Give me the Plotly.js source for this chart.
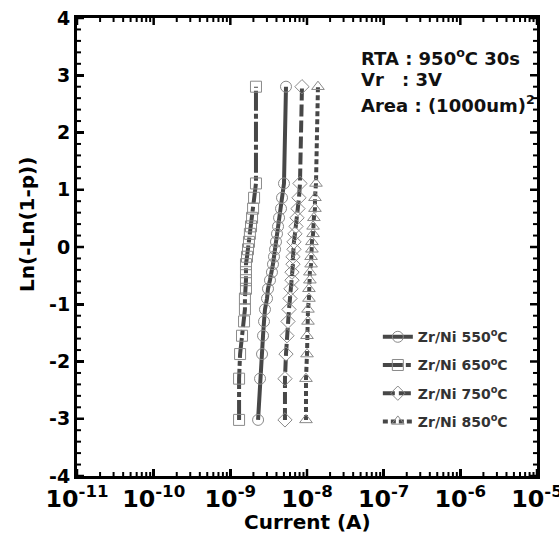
<!DOCTYPE html>
<html>
<head>
<meta charset="utf-8">
<script src="https://cdn.plot.ly/plotly-3.0.1.min.js"></script>
<style>
  html, body { margin: 0; padding: 0; background: #fff; }
  #chart { width: 559px; height: 539px; }
</style>
</head>
<body>
<div id="chart"></div>
<script>
// Weibull plot levels, Ln(-Ln(1-p)), shared by all four samples
const weibullY = [-3.02, -2.30, -1.87, -1.55, -1.30, -1.09, -0.90, -0.73, -0.58, -0.44,
                  -0.30, -0.17, -0.04, 0.09, 0.23, 0.36, 0.51, 0.67, 0.86, 1.11, 2.80];

// Leakage current (A) for each anneal temperature
const current550 = [2.30e-9, 2.44e-9, 2.59e-9, 2.67e-9, 2.75e-9, 2.83e-9, 3.01e-9, 3.10e-9, 3.29e-9, 3.49e-9,
                    3.60e-9, 3.71e-9, 3.83e-9, 3.94e-9, 4.06e-9, 4.19e-9, 4.32e-9, 4.58e-9, 4.72e-9, 5.01e-9, 5.32e-9];
const current650 = [1.30e-9, 1.30e-9, 1.34e-9, 1.42e-9, 1.51e-9, 1.55e-9, 1.55e-9, 1.60e-9, 1.60e-9, 1.60e-9,
                    1.60e-9, 1.65e-9, 1.70e-9, 1.75e-9, 1.80e-9, 1.86e-9, 1.92e-9, 1.98e-9, 2.04e-9, 2.16e-9, 2.16e-9];
const current750 = [5.16e-9, 5.16e-9, 5.32e-9, 5.48e-9, 5.65e-9, 5.82e-9, 6.00e-9, 6.18e-9, 6.37e-9, 6.37e-9,
                    6.56e-9, 6.56e-9, 6.76e-9, 6.76e-9, 6.97e-9, 7.18e-9, 7.41e-9, 7.63e-9, 7.86e-9, 8.10e-9, 8.60e-9];
const current850 = [9.70e-9, 9.70e-9, 1.00e-8, 1.00e-8, 1.03e-8, 1.03e-8, 1.06e-8, 1.06e-8, 1.09e-8, 1.09e-8,
                    1.13e-8, 1.13e-8, 1.16e-8, 1.16e-8, 1.20e-8, 1.20e-8, 1.23e-8, 1.27e-8, 1.27e-8, 1.31e-8, 1.39e-8];

const seriesNames = ['Zr/Ni 550<sup>o</sup>C', 'Zr/Ni 650<sup>o</sup>C', 'Zr/Ni 750<sup>o</sup>C', 'Zr/Ni 850<sup>o</sup>C'];

// axis tick layout
const xDecades = [-11, -10, -9, -8, -7, -6, -5];
const xMinorMultipliers = [2, 3, 4, 5, 6, 7, 8, 9];
const yMajorTicks = [-4, -3, -2, -1, 0, 1, 2, 3, 4];
const yMinorSteps = [0.2, 0.4, 0.6, 0.8];

const FONT = 'DejaVu Sans, Verdana, sans-serif';
const LINE_COLOR = '#474747';
const MARK_COLOR = '#8a8a8a';

// ASCII hyphen instead of the typographic minus in tick labels
const xAlias = {};
xDecades.forEach(e => { xAlias['10<sup>\u2212' + (-e) + '</sup>'] = '10<sup>-' + (-e) + '</sup>'; });
const yAlias = {};
yMajorTicks.filter(v => v < 0).forEach(v => { yAlias['\u2212' + (-v)] = '-' + (-v); });

function series(x, name, dash, symbol) {
  return {
    type: 'scatter', mode: 'lines+markers',
    x: x, y: weibullY, name: name, legendgroup: name,
    line: { color: LINE_COLOR, width: 4, dash: dash },
    marker: { symbol: symbol, size: 11, color: MARK_COLOR, line: { width: 1, color: MARK_COLOR } }
  };
}

const traces = [
  series(current550, seriesNames[0], 'solid', 'circle-open'),
  series(current650, seriesNames[1], '20px,3px,5px,3px', 'square-open'),
  series(current750, seriesNames[2], '12px,4px', 'diamond-open'),
  series(current850, seriesNames[3], '5px,3px', 'triangle-up-open')
];

// inward tick marks on all four sides of the frame, placed through the axis scales
const MAJOR_LEN = 7, MINOR_LEN = 4;
function xTick(v, len, width) {
  return [0, 1].map(side => ({
    type: 'line', layer: 'above', xref: 'x', yref: 'paper',
    xsizemode: 'pixel', xanchor: v, x0: 0, x1: 0,
    ysizemode: 'pixel', yanchor: side, y0: 0, y1: side ? -len : len,
    line: { color: '#000', width: width }
  }));
}
function yTick(v, len, width) {
  return [0, 1].map(side => ({
    type: 'line', layer: 'above', xref: 'paper', yref: 'y',
    ysizemode: 'pixel', yanchor: v, y0: 0, y1: 0,
    xsizemode: 'pixel', xanchor: side, x0: 0, x1: side ? -len : len,
    line: { color: '#000', width: width }
  }));
}
const tickShapes = [];
xDecades.forEach(d => {
  tickShapes.push(...xTick(Math.pow(10, d), MAJOR_LEN, 2.5));
  if (d < -5) xMinorMultipliers.forEach(m => tickShapes.push(...xTick(m * Math.pow(10, d), MINOR_LEN, 2)));
});
yMajorTicks.forEach(v => {
  tickShapes.push(...yTick(v, MAJOR_LEN, 2.5));
  if (v < 4) yMinorSteps.forEach(s => tickShapes.push(...yTick(v + s, MINOR_LEN, 2)));
});

const axisCommon = {
  showline: true, linecolor: '#000', linewidth: 3, mirror: true,
  ticks: 'inside', ticklen: MAJOR_LEN, tickwidth: 2.5, tickcolor: '#000',
  showgrid: false, zeroline: false, ticklabeloverflow: 'allow',
  tickfont: { family: FONT, size: 19, color: '#000', weight: 'bold' }
};

// axis titles are placed as paper annotations
const titleFont = { family: FONT, size: 20, color: '#000', weight: 'bold' };

const layout = {
  width: 559, height: 539,
  margin: { l: 77, r: 22, t: 18, b: 63 },
  paper_bgcolor: '#fff', plot_bgcolor: '#fff',
  font: { family: FONT, color: '#000' },
  xaxis: Object.assign({}, axisCommon, {
    type: 'log', range: [-11, -5], dtick: 1, exponentformat: 'power', labelalias: xAlias
  }),
  yaxis: Object.assign({}, axisCommon, {
    range: [-4, 4], dtick: 1, labelalias: yAlias
  }),
  shapes: tickShapes,
  showlegend: true,
  legend: {
    x: 0.654, y: 0.338, xanchor: 'left', yanchor: 'top',
    bgcolor: 'rgba(0,0,0,0)', borderwidth: 0,
    tracegroupgap: 7,
    font: { family: FONT, size: 14, color: '#333', weight: 'bold' }
  },
  annotations: [
    { text: 'RTA : 950<sup>o</sup>C 30s', x: 0.613, y: 0.915 },
    { text: 'Vr', x: 0.613, y: 0.865 },
    { text: ': 3V', x: 0.702, y: 0.865 },
    { text: 'Area : (1000um)<sup>2</sup>', x: 0.613, y: 0.812 }
  ].map(a => Object.assign({
    xref: 'paper', yref: 'paper', xanchor: 'left', yanchor: 'middle', showarrow: false,
    font: { family: FONT, size: 18, color: '#111', weight: 'bold' }
  }, a)).concat([
    { text: 'Ln(-Ln(1-p))', textangle: -90, x: -0.109, y: 0.55, font: titleFont },
    { text: 'Current (A)', x: 0.5, y: -0.1, font: titleFont }
  ].map(a => Object.assign({
    xref: 'paper', yref: 'paper', xanchor: 'center', yanchor: 'middle', showarrow: false
  }, a)))
};

Plotly.newPlot('chart', traces, layout, { displayModeBar: false, staticPlot: true });
</script>
</body>
</html>
